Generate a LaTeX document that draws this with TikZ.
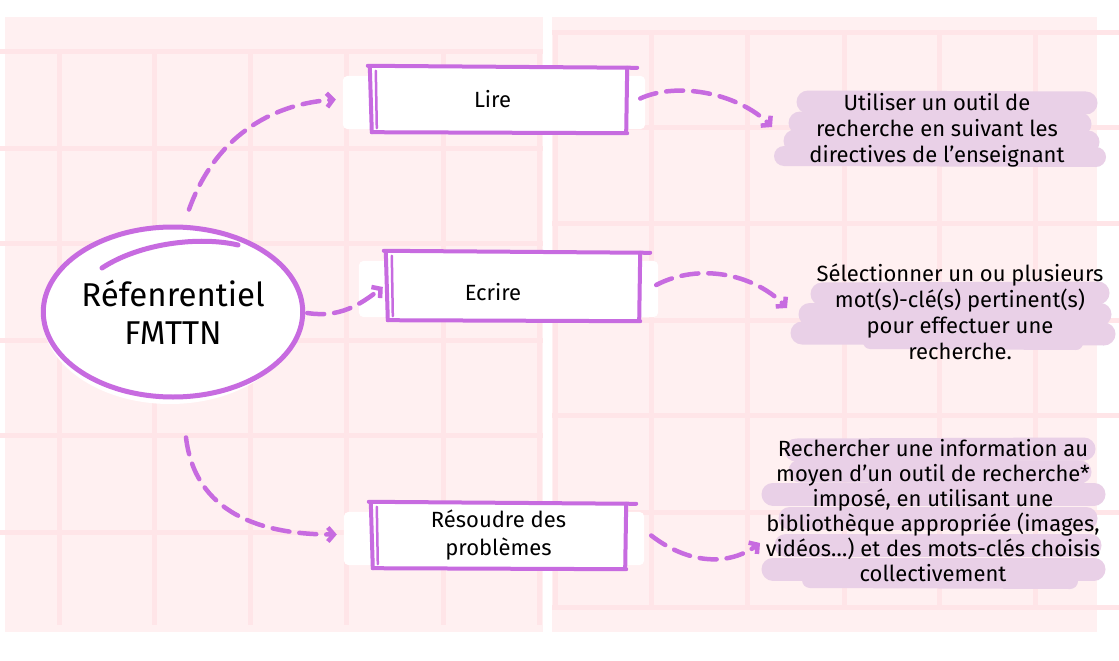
\documentclass[tikz,border=0pt]{standalone}
\usepackage{fontspec}
\setmainfont{Fira Sans}
\usetikzlibrary{arrows.meta,shapes.geometric,calc}
\pgfdeclarelayer{bg}
\pgfdeclarelayer{mid}
\pgfsetlayers{bg,mid,main}
\definecolor{purp}{HTML}{C76BE0}
\definecolor{lilac}{HTML}{E9D0E7}
\definecolor{panel}{HTML}{FFF0F1}
\definecolor{gridl}{HTML}{FFE5E8}
\newcommand\sketchbox[1]{%
  \begin{pgfonlayer}{mid}
    \fill[white,rounded corners=5pt] ($(#1.north west)+(-27,9)$) rectangle ($(#1.south east)+(18,-3)$);
  \end{pgfonlayer}
  \draw[skline] ($(#1.north west)+(-2,-1)$) -- ($(#1.north east)+(10,1)$);
  \draw[skline] ($(#1.south west)+(2,0)$) -- ($(#1.south east)+(0,1)$);
  \draw[skline] ($(#1.north west)+(0,0)$) -- ($(#1.south west)+(2,0)$);
  \draw[skline,line width=2.5pt] ($(#1.north west)+(6,4)$) -- ($(#1.south west)+(7,-4)$);
  \draw[skline] ($(#1.north east)+(0,1)$) -- ($(#1.south east)+(-1,0)$);
}
\begin{document}
\begin{tikzpicture}[x=1pt,y=-1pt,
  conn/.style={purp, line width=4.5pt, line cap=round, dash pattern=on 17pt off 10pt,
    -{Straight Barb[length=6pt,width=14pt]}},
  skline/.style={purp, line width=4pt, line cap=round},
  hl/.style={lilac, line width=23pt, line cap=round},
  boxnode/.style={rectangle, fill=white, inner sep=0pt, align=center,
    font=\fontsize{22}{28}\selectfont},
  ellnode/.style={ellipse, draw=purp, line width=5pt, fill=white, inner sep=0pt,
    minimum width=246pt, minimum height=170pt, align=center,
    font=\fontsize{33}{38}\selectfont},
  txt/.style={align=center, inner sep=0pt, font=\fontsize{22}{26}\selectfont}]
\useasboundingbox (0,0) rectangle (1119,661);
\begin{pgfonlayer}{bg}
  \fill[white] (0,0) rectangle (1119,661);
  % right panel
  \fill[panel] (552,17) rectangle (1097,632);
  \foreach \y in {33,127,223,320,415,512,607} \draw[gridl,line width=5pt] (552,\y) -- (1119,\y);
  \foreach \x in {555,651,747,844,939,1035} \draw[gridl,line width=5pt] (\x,33) -- (\x,607);
  % left panel
  \fill[panel] (5,17) rectangle (543,632);
  \foreach \y in {52,148,243,340,435,532} \draw[gridl,line width=5pt] (0,\y) -- (543,\y);
  \foreach \x in {59,154,250,346,443,539} \draw[gridl,line width=5pt] (\x,52) -- (\x,625);
\end{pgfonlayer}
\begin{pgfonlayer}{mid}
  \fill[white] (170,315) ellipse [x radius=128, y radius=89];
  % highlight 1
  \draw[hl] (808,102) -- (1086,103);
  \draw[hl] (800,123) -- (1080,124);
  \draw[hl] (795,141) -- (1088,142);
  \draw[hl,line width=20pt] (784,156) -- (1096,157);
  % highlight 2
  \draw[hl] (822,294) -- (1098,293);
  \draw[hl] (810,314) -- (1100,314);
  \draw[hl] (802,333) -- (1104,334);
  \draw[hl,line width=14pt] (870,342) -- (1076,343);
  % highlight 3
  \draw[hl] (796,450) -- (1084,449);
  \draw[hl] (800,471) -- (1080,472);
  \draw[hl] (773,494) -- (1094,494);
  \draw[hl] (790,518) -- (1086,518);
  \draw[hl] (786,545) -- (1090,545);
  \draw[hl] (773,569) -- (1094,569);
  \draw[hl,line width=16pt] (810,580) -- (1070,581);
\end{pgfonlayer}

% central ellipse
\node[ellnode] (ell) at (173,312) {Réfenrentiel\\FMTTN};
\draw[skline,line width=5pt] (102,268) .. controls (140,243) and (200,236) .. (238,245);

% boxes
\node[boxnode, minimum width=257pt, minimum height=65pt] (lire) at (498.5,99.5) {Lire\hspace*{12pt}};
\sketchbox{lire}
\node[boxnode, minimum width=254pt, minimum height=68pt] (ecr) at (513,286) {\raisebox{-14pt}[0pt][0pt]{Ecrire}\hspace*{40pt}};
\sketchbox{ecr}
\node[boxnode, minimum width=255pt, minimum height=65pt] (res) at (498.5,535.5) {Résoudre des\\problèmes};
\sketchbox{res}

% texts
\node[txt] (t1) at (937,130) {Utiliser un outil de\\recherche en suivant les\\directives de l’enseignant};
\node[txt] (t2) at (960,312) {Sélectionner un ou plusieurs\\mot(s)-clé(s) pertinent(s)\\pour effectuer une\\recherche.};
\node[txt,font=\fontsize{22}{25}\selectfont] (t3) at (933,511) {Rechercher une information au\\moyen d’un outil de recherche*\\imposé, en utilisant une\\bibliothèque appropriée (images,\\vidéos…) et des mots-clés choisis\\collectivement};

% connector end points
\coordinate (e4) at (772,127);
\coordinate (e5) at (787,308);
\coordinate (e6) at (760,543);

% connectors
\draw[conn] ($(ell.north)+(16,-15)$) .. controls +(26,-72) and +(-66,5) .. ($(lire.west)+(-34,0)$);
\draw[conn] ($(ell.east)+(2,1)$) .. controls +(32,5) and +(-23,18) .. ($(ecr.west)+(-3,1)$);
\draw[conn] ($(ell.south)+(13,38)$) .. controls +(9,75) and +(-77,0) .. ($(res.west)+(-34,-1)$);
\draw[conn] ($(lire.east)+(13,-1)$) .. controls +(40,-18) and +(-32,-32) .. (e4);
\draw[conn] ($(ecr.east)+(16,-1)$) .. controls +(44,-23) and +(-32,-33) .. (e5);
\draw[conn] ($(res.east)+(25,0)$) .. controls +(39,30) and +(-30,22) .. (e6);
\end{tikzpicture}
\end{document}
